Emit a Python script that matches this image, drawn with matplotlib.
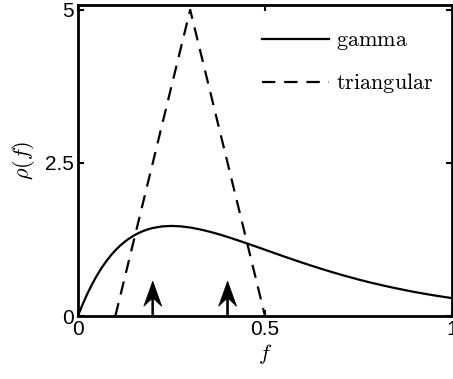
import numpy as np
import matplotlib
matplotlib.use('Agg')
import matplotlib.pyplot as plt

plt.rcParams['mathtext.fontset'] = 'cm'

# gamma density
gamma_f = [0.0, 0.005, 0.0125, 0.025, 0.0375, 0.05, 0.0625, 0.075, 0.0875, 0.1,
           0.1125, 0.125, 0.1375, 0.15, 0.1625, 0.175, 0.1875, 0.2, 0.225, 0.25,
           0.275, 0.3, 0.325, 0.35, 0.375, 0.4, 0.425, 0.45, 0.475, 0.5, 0.525,
           0.55, 0.575, 0.6, 0.625, 0.65, 0.675, 0.7, 0.725, 0.75, 0.775, 0.8,
           0.825, 0.85, 0.875, 0.9, 0.925, 0.95, 0.975, 1.0]
gamma_rho = [0.0, 0.078, 0.190, 0.362, 0.516, 0.655, 0.779, 0.889, 0.987, 1.073,
             1.148, 1.213, 1.269, 1.317, 1.357, 1.390, 1.417, 1.438, 1.464, 1.472,
             1.465, 1.446, 1.417, 1.381, 1.339, 1.292, 1.242, 1.190, 1.137, 1.083, 1.029,
             0.975, 0.923, 0.871, 0.821, 0.772, 0.726, 0.681, 0.638, 0.597, 0.558, 0.522,
             0.487, 0.454, 0.423, 0.393, 0.366, 0.340, 0.316, 0.293]

# triangular density
tri_f = [0.1, 0.3, 0.5]
tri_rho = [0.0, 5.0, 0.0]

# arrows (point masses)
arrow_f = [0.2, 0.4]
arrow_h = 0.57

xticks = [0, 0.5, 1]
xticklabels = ['0', '0.5', '1']
yticks = [0, 2.5, 5]
yticklabels = ['0', '2.5', '5']

fig = plt.figure(figsize=(4.53, 3.79), dpi=100)
ax = fig.add_axes([0.172, 0.166, 0.826, 0.821])

ax.plot(gamma_f, gamma_rho, 'k-', lw=1.6, label=r'$\mathrm{gamma}$')
ax.plot(tri_f, tri_rho, 'k--', lw=1.6, dashes=(6, 4), label=r'$\mathrm{triangular}$')

for f in arrow_f:
    ax.arrow(f, 0, 0, arrow_h, width=0.005, head_width=0.048, head_length=0.41,
             overhang=0.3, length_includes_head=True, fc='k', ec='k', lw=0.5,
             zorder=3)

ax.set_xlim(0, 1)
ax.set_ylim(0, 5.08)
ax.set_xticks(xticks)
ax.set_xticklabels(xticklabels, fontfamily='Liberation Sans', fontsize=15)
ax.set_yticks(yticks)
ax.set_yticklabels(yticklabels, fontfamily='Liberation Sans', fontsize=15)
ax.tick_params(direction='in', length=4, width=1.5, top=True, right=True, pad=3)
for s in ax.spines.values():
    s.set_linewidth(2)

ax.set_xlabel(r'$f$', fontsize=16, labelpad=2)
ax.set_ylabel(r'$\rho(f)$', fontsize=16, labelpad=6)

ax.legend(loc='upper right', bbox_to_anchor=(1.018, 1.0), frameon=False,
          fontsize=16, handlelength=3.0, handletextpad=0.3, labelspacing=0.85,
          borderaxespad=0.75)

fig.savefig('out.png', dpi=100)
